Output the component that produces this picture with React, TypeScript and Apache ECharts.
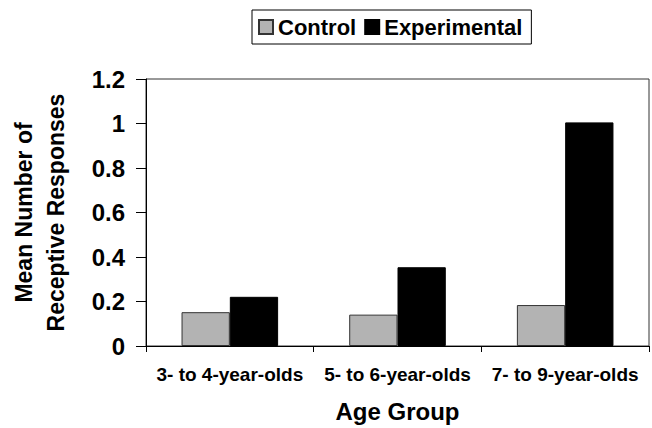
import React, { useEffect, useRef } from "react";
import * as echarts from "echarts";

const categories = ["3- to 4-year-olds", "5- to 6-year-olds", "7- to 9-year-olds"];
const controlValues = [0.152, 0.141, 0.184];
const experimentalValues = [0.221, 0.354, 1.005];
const yTicks = { min: 0, max: 1.2, interval: 0.2 };

const FONT = "'Liberation Sans', Arial, sans-serif";

export default function App() {
  const ref = useRef<HTMLDivElement>(null);
  useEffect(() => {
    if (!ref.current) return;
    const chart = echarts.init(ref.current, null, { renderer: "svg" });
    chart.setOption({
      animation: false,
      backgroundColor: "#fff",
      textStyle: { fontFamily: FONT },
      legend: {
        top: 10,
        left: 252,
        data: ["Control", "Experimental"],
        icon: "rect",
        itemWidth: 14,
        itemHeight: 14,
        itemGap: 8,
        borderColor: "#000",
        borderWidth: 1,
        padding: [6, 9, 6, 6],
        textStyle: { fontFamily: FONT, fontWeight: "bold", fontSize: 22, color: "#000" },
      },
      grid: {
        left: 139,
        right: 3,
        top: 79,
        bottom: 80,
        show: true,
        borderColor: "#333",
        borderWidth: 1,
      },
      xAxis: {
        type: "category",
        data: categories,
        name: "Age Group",
        nameLocation: "middle",
        nameGap: 53,
        nameTextStyle: { fontFamily: FONT, fontWeight: "bold", fontSize: 24, color: "#000" },
        axisLine: { lineStyle: { color: "#000", width: 1 } },
        axisTick: { show: true, length: 6, alignWithLabel: false, interval: 0, lineStyle: { color: "#000" } },
        axisLabel: {
          fontFamily: FONT,
          fontWeight: "bold",
          fontSize: 19,
          color: "#000",
          margin: 19,
          interval: 0,
          hideOverlap: false,
        },
      },
      yAxis: {
        type: "value",
        min: yTicks.min,
        max: yTicks.max,
        interval: yTicks.interval,
        name: "Mean Number of\nReceptive Responses",
        nameLocation: "middle",
        nameRotate: 90,
        nameGap: 74,
        nameTextStyle: { fontFamily: FONT, fontWeight: "bold", fontSize: 23, color: "#000", lineHeight: 32 },
        axisLine: { show: true, lineStyle: { color: "#000", width: 1 } },
        axisTick: { show: true, length: 10, lineStyle: { color: "#000" } },
        splitLine: { show: false },
        axisLabel: {
          fontFamily: FONT,
          fontWeight: "bold",
          fontSize: 24,
          color: "#000",
          margin: 21,
          formatter: (v: number) => String(Math.round(v * 10) / 10),
        },
      },
      series: [
        {
          name: "Control",
          type: "bar",
          data: controlValues,
          barGap: "0%",
          barCategoryGap: "42.4%",
          itemStyle: { color: "#b3b3b3", borderColor: "#333", borderWidth: 1 },
        },
        {
          name: "Experimental",
          type: "bar",
          data: experimentalValues,
          itemStyle: { color: "#000", borderColor: "#000", borderWidth: 1 },
        },
      ],
    });
    return () => chart.dispose();
  }, []);
  return <div ref={ref} style={{ width: 652, height: 428, position: "absolute", left: 0, top: 0 }} />;
}
